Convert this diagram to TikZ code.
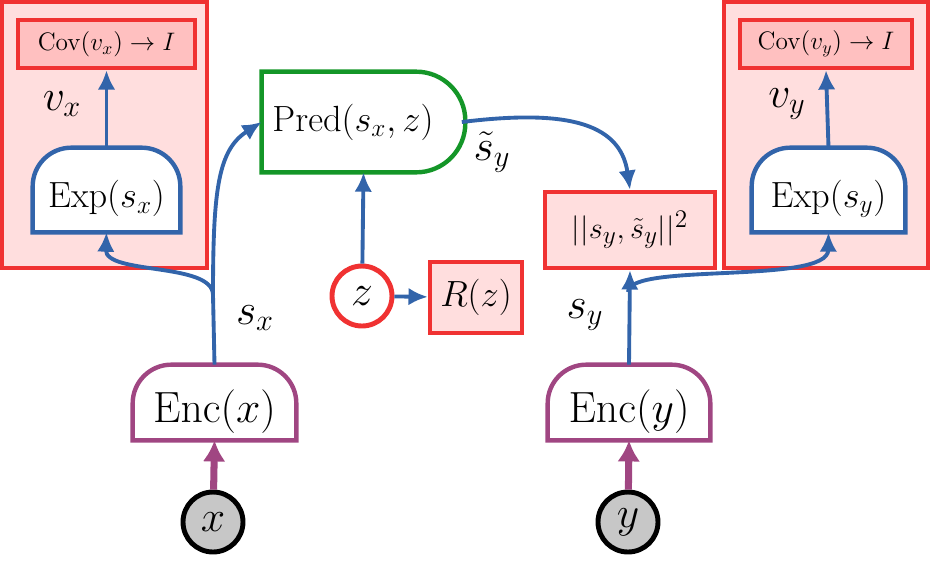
\documentclass[tikz,border=0pt]{standalone}
\usepackage{tikz}
\usetikzlibrary{arrows.meta}
\definecolor{lineblue}{RGB}{50,100,170}
\definecolor{boxred}{RGB}{240,50,50}
\definecolor{lightpink}{RGB}{255,222,222}
\definecolor{midpink}{RGB}{255,192,192}
\definecolor{predgreen}{RGB}{20,150,40}
\definecolor{encpurple}{RGB}{160,70,130}
\tikzset{
  flow/.style={draw=lineblue, line width=2.2pt, -{Latex[length=11pt,width=10pt]}},
  feed/.style={draw=encpurple, line width=4pt, -{Latex[length=12pt,width=13pt]}},
  outer/.style={draw=boxred, line width=2.5pt, fill=lightpink, inner sep=0pt},
  cost/.style={draw=boxred, line width=2.5pt, fill=midpink, inner sep=0pt},
  blank/.style={inner sep=0pt},
  var/.style={circle, draw, line width=2.8pt, minimum size=1.2cm, inner sep=0pt, font=\fontsize{25}{29}\selectfont},
  lbl/.style={font=\fontsize{24}{28}\selectfont}
}
\begin{document}
\begin{tikzpicture}[x=0.02cm,y=-0.02cm]
	\useasboundingbox (0,0) rectangle (930,562);
	% left expander
	\node[outer, minimum width=4.1cm, minimum height=5.32cm] (boxL) at (104.5,135) {};
	\node[cost, minimum width=3.54cm, minimum height=0.96cm, font=\fontsize{14.5}{17}\selectfont] (covL) at (106.5,44) {$\mathrm{Cov}(v_x)\rightarrow I$};
	\node[blank, minimum width=2.94cm, minimum height=1.68cm] (expL) at (106.5,190) {};
	\fill[white] (expL.south west) [rounded corners=22pt] -- (expL.north west) -- (expL.north east) [sharp corners] -- (expL.south east) -- cycle;
	\draw[lineblue, line width=2.5pt] (expL.south west) [rounded corners=22pt] -- (expL.north west) -- (expL.north east) [sharp corners] -- (expL.south east) -- cycle;
	\node[font=\fontsize{19.5}{23}\selectfont] at ([yshift=-5pt]expL.center) {$\mathrm{Exp}(s_x)$};
	% right expander
	\node[outer, minimum width=4.08cm, minimum height=5.32cm] (boxR) at (826,135) {};
	\node[cost, minimum width=3.44cm, minimum height=0.96cm, font=\fontsize{14.5}{17}\selectfont] (covR) at (826,44) {$\mathrm{Cov}(v_y)\rightarrow I$};
	\node[blank, minimum width=3.06cm, minimum height=1.68cm] (expR) at (828.5,190) {};
	\fill[white] (expR.south west) [rounded corners=22pt] -- (expR.north west) -- (expR.north east) [sharp corners] -- (expR.south east) -- cycle;
	\draw[lineblue, line width=2.5pt] (expR.south west) [rounded corners=22pt] -- (expR.north west) -- (expR.north east) [sharp corners] -- (expR.south east) -- cycle;
	\node[font=\fontsize{19.5}{23}\selectfont] at ([yshift=-5pt]expR.center) {$\mathrm{Exp}(s_y)$};
	% encoders
	\node[blank, minimum width=3.26cm, minimum height=1.5cm] (encX) at (214.5,402.5) {};
	\draw[encpurple, line width=2.5pt] (encX.south west) [rounded corners=22pt] -- (encX.north west) -- (encX.north east) [sharp corners] -- (encX.south east) -- cycle;
	\node[font=\fontsize{24}{28}\selectfont] at ([yshift=-5pt]encX.center) {$\mathrm{Enc}(x)$};
	\node[blank, minimum width=3.24cm, minimum height=1.5cm] (encY) at (629,402.5) {};
	\draw[encpurple, line width=2.5pt] (encY.south west) [rounded corners=22pt] -- (encY.north west) -- (encY.north east) [sharp corners] -- (encY.south east) -- cycle;
	\node[font=\fontsize{24}{28}\selectfont] at ([yshift=-5pt]encY.center) {$\mathrm{Enc}(y)$};
	% predictor
	\node[blank, minimum width=4.06cm, minimum height=2cm] (pred) at (363.5,122) {};
	\draw[predgreen, line width=2.5pt] (pred.south west) -- (pred.north west) [rounded corners=28pt] -- (pred.north east) -- (pred.south east) [sharp corners] -- cycle;
	\node[font=\fontsize{21}{25}\selectfont] at ([xshift=-6pt]pred.center) {$\mathrm{Pred}(s_x,z)$};
	% variables and costs
	\node[var, fill=black!22] (X) at (213,522) {$x$};
	\node[var, fill=black!22] (Y) at (628,522) {$y$};
	\node[var, draw=boxred, fill=white] (Z) at (362,296) {$z$};
	\node[cost, fill=lightpink, minimum width=1.84cm, minimum height=1.42cm, font=\fontsize{21}{25}\selectfont] (Rz) at (476,297.5) {$R(z)$};
	\node[cost, fill=lightpink, minimum width=3.4cm, minimum height=1.52cm, font=\fontsize{19}{23}\selectfont] (norm) at (630,230) {$||s_y,\tilde{s}_y||^2$};
	% connectors
	\coordinate (sx) at (213,295);
	\coordinate (sy) at (628,292);
	\draw[feed] (X) -- (encX.south);
	\draw[feed] (Y) -- (encY.south);
	\draw[flow] (expL.north) -- (covL.south);
	\draw[flow] (expR.north) -- (covR.south);
	\draw[flow] (encX.north) -- (sx) .. controls (213,262) and (105,275) .. (expL.south);
	\draw[flow] (sx) .. controls (213,190) and (218,150) .. (pred.west);
	\draw[flow] ([xshift=-2pt]pred.east) .. controls (560,110) and (620,120) .. (norm.north);
	\draw[flow] (Z) -- (pred.south);
	\draw[flow] (Z) -- (Rz);
	\draw[flow] (encY.north) -- (norm.south);
	\draw[flow] (sy) .. controls (628,262) and (828,285) .. (expR.south);
	% labels
	\node[lbl] at (62,104) {$v_x$};
	\node[lbl] at (787,104) {$v_y$};
	\node[lbl] at (255,318) {$s_x$};
	\node[lbl] at (585,315) {$s_y$};
	\node[lbl] at (492,152) {$\tilde{s}_y$};
\end{tikzpicture}
\end{document}
